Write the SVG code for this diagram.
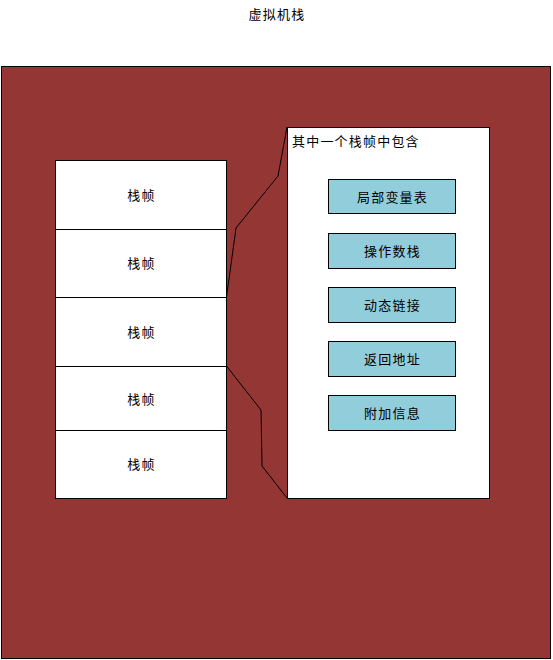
<svg xmlns="http://www.w3.org/2000/svg" width="553" height="660" viewBox="0 0 553 660">
<style>
text{font-family:"Liberation Sans","Noto Sans CJK SC",sans-serif;font-size:13px;fill:#000;letter-spacing:1.2px;}
.c{text-anchor:middle;dominant-baseline:central;}
.frame{fill:#fff;stroke:#000;stroke-width:1;}
.item{fill:#92CDDC;stroke:#000;stroke-width:1;}
.conn{fill:none;stroke:#000;stroke-width:1;}
</style>
<rect width="553" height="660" fill="#fff"/>
<text id="title" class="c" x="277" y="14">虚拟机栈</text>
<g id="vmstack"><rect x="1.5" y="66.5" width="549" height="592" fill="#943634" stroke="#000" stroke-width="1"/></g>
<g id="frame1"><rect class="frame" x="55.5" y="160.5" width="171" height="69"/><text class="c" x="141.5" y="195">栈帧</text></g>
<g id="frame2"><rect class="frame" x="55.5" y="229.5" width="171" height="68"/><text class="c" x="141.5" y="263">栈帧</text></g>
<g id="frame3"><rect class="frame" x="55.5" y="297.5" width="171" height="69"/><text class="c" x="141.5" y="332">栈帧</text></g>
<g id="frame4"><rect class="frame" x="55.5" y="366.5" width="171" height="64"/><text class="c" x="141.5" y="399">栈帧</text></g>
<g id="frame5"><rect class="frame" x="55.5" y="430.5" width="171" height="68"/><text class="c" x="141.5" y="464">栈帧</text></g>
<g id="connectors">
<polyline class="conn" points="226.5,297 236,228 278,176 287,127"/>
<polyline class="conn" points="226.5,366 261,410 262,466 287,498"/>
</g>
<g id="detail"><rect class="frame" x="287.5" y="127.5" width="202" height="371"/><text x="292" y="146">其中一个栈帧中包含</text></g>
<g id="item1"><rect class="item" x="328.5" y="179.5" width="127" height="34"/><text class="c" x="392.5" y="197">局部变量表</text></g>
<g id="item2"><rect class="item" x="328.5" y="233.5" width="127" height="35"/><text class="c" x="392.5" y="251">操作数栈</text></g>
<g id="item3"><rect class="item" x="328.5" y="287.5" width="127" height="35"/><text class="c" x="392.5" y="305">动态链接</text></g>
<g id="item4"><rect class="item" x="328.5" y="341.5" width="127" height="35"/><text class="c" x="392.5" y="359">返回地址</text></g>
<g id="item5"><rect class="item" x="328.5" y="395.5" width="127" height="35"/><text class="c" x="392.5" y="413">附加信息</text></g>
</svg>
